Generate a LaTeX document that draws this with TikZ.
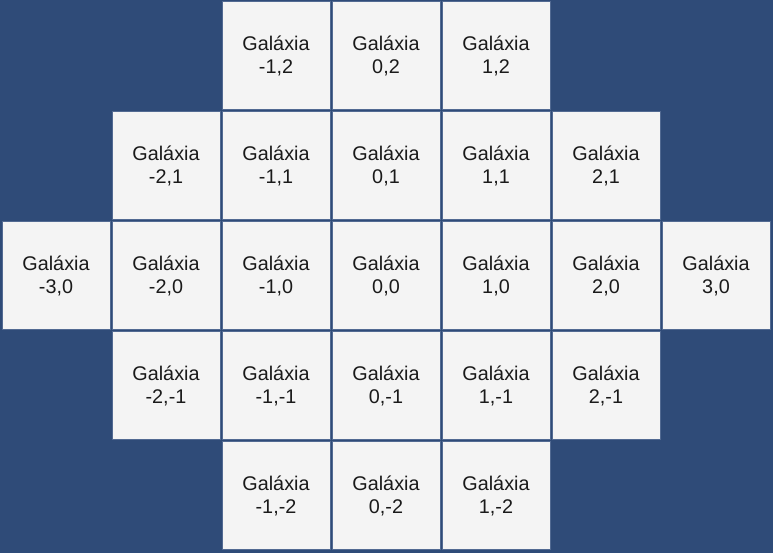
\documentclass[tikz,border=0pt]{standalone}
\usepackage{fontspec}
\setmainfont{Liberation Sans}
\definecolor{bgblue}{RGB}{47,75,120}
\definecolor{cellfill}{RGB}{244,244,244}
\definecolor{celledge}{RGB}{82,106,146}
\definecolor{txt}{RGB}{26,26,26}
\tikzset{
  cell/.style={rectangle, fill=cellfill, draw=celledge, line width=1pt,
    minimum width=108pt, minimum height=108pt, inner sep=0pt,
    align=center, text=txt, font=\fontsize{19.8pt}{23pt}\selectfont}
}
\begin{document}
\begin{tikzpicture}[x=1pt,y=-1pt]
\useasboundingbox (0,0) rectangle (773,553);
\fill[bgblue] (0,0) rectangle (773,553);
\foreach \c/\r in {-1/2,0/2,1/2,
  -2/1,-1/1,0/1,1/1,2/1,
  -3/0,-2/0,-1/0,0/0,1/0,2/0,3/0,
  -2/-1,-1/-1,0/-1,1/-1,2/-1,
  -1/-2,0/-2,1/-2}{
  \node[cell] (g\c\r) at ({56+110*(\c+3)},{55.5+110*(2-\r)}) {Galáxia\\\c,\r};
}
\end{tikzpicture}
\end{document}
